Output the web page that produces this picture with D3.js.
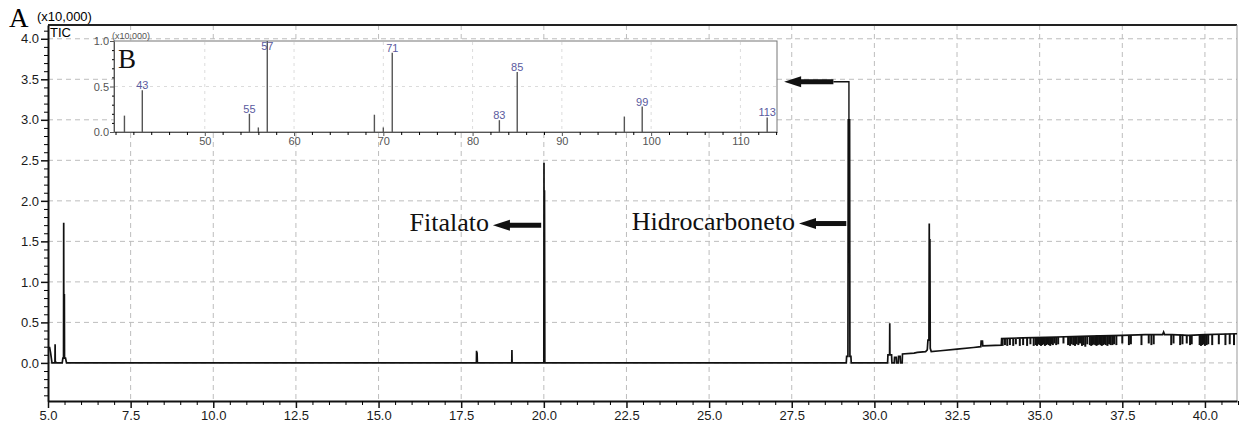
<!DOCTYPE html>
<html>
<head>
<meta charset="utf-8">
<script src="https://cdn.jsdelivr.net/npm/d3@7"></script>
<style>
  html, body { margin: 0; padding: 0; background: #fff; }
  #chart { width: 1242px; height: 430px; }
  text { font-family: "Liberation Sans", Arial, sans-serif; }
</style>
</head>
<body>
<div id="chart"></div>
<script>
// TIC chromatogram trace: [retention time (min), intensity (x10,000)]
const ticTrace = [
  [5.00, 0.19], [5.05, 0.19], [5.08, 0.12], [5.12, 0.0], [5.21, 0.0],
  [5.215, 0.23], [5.22, 0.02], [5.25, 0.0], [5.43, 0.0], [5.45, 0.06],
  [5.47, 0.06], [5.475, 1.73], [5.48, 0.06], [5.495, 0.85], [5.50, 0.06],
  [5.53, 0.06], [5.56, 0.0],
  [17.96, 0.0], [17.965, 0.15], [17.97, 0.0], [17.98, 0.13], [17.99, 0.0],
  [19.03, 0.0], [19.035, 0.16], [19.04, 0.0],
  [20.00, 0.0], [20.005, 2.47], [20.01, 0.05], [20.02, 2.13], [20.03, 0.0],
  [29.15, 0.0], [29.16, 0.08], [29.20, 0.08], [29.21, 3.0], [29.25, 3.0],
  [29.26, 0.08], [29.29, 0.08], [29.30, 0.0],
  [30.40, 0.0], [30.41, 0.10], [30.46, 0.10], [30.465, 0.49], [30.47, 0.10],
  [30.52, 0.10], [30.53, 0.0], [30.60, 0.0], [30.61, 0.07], [30.66, 0.07],
  [30.67, 0.0], [30.72, 0.0], [30.73, 0.08], [30.78, 0.08], [30.79, 0.0],
  [30.84, 0.0], [30.85, 0.11], [31.20, 0.12], [31.30, 0.13], [31.55, 0.14],
  [31.60, 0.16], [31.62, 0.28], [31.65, 0.28], [31.66, 1.72], [31.67, 0.28],
  [31.68, 1.53], [31.69, 0.18], [31.72, 0.14], [32.00, 0.15], [32.50, 0.17],
  [33.00, 0.19], [33.22, 0.20], [33.23, 0.27], [33.27, 0.27], [33.28, 0.21],
  [33.84, 0.22], [33.85, 0.30], [34.50, 0.31], [35.50, 0.32], [36.50, 0.33],
  [37.50, 0.34], [38.20, 0.35], [38.72, 0.35], [38.75, 0.38], [38.78, 0.35],
  [39.00, 0.35], [39.50, 0.34], [40.00, 0.35], [40.97, 0.36]
];

// downward noise spikes in the late baseline: [time, top, bottom]
const ticDips = [
  [33.88, 0.30, 0.21], [33.95, 0.30, 0.22], [34.02, 0.30, 0.21], [34.10, 0.30, 0.22],
  [34.20, 0.30, 0.21], [34.28, 0.30, 0.23], [34.40, 0.30, 0.21], [34.50, 0.31, 0.22],
  [34.62, 0.31, 0.21], [34.72, 0.31, 0.23], [34.82, 0.31, 0.21], [34.88, 0.31, 0.22],
  [34.92, 0.31, 0.21], [34.96, 0.31, 0.23], [35.00, 0.31, 0.22], [35.04, 0.31, 0.21],
  [35.08, 0.32, 0.22], [35.12, 0.32, 0.23], [35.16, 0.32, 0.21], [35.20, 0.32, 0.22],
  [35.24, 0.32, 0.23], [35.28, 0.32, 0.22], [35.32, 0.32, 0.21], [35.36, 0.32, 0.23],
  [35.40, 0.32, 0.22], [35.45, 0.32, 0.24], [35.50, 0.32, 0.22], [35.56, 0.32, 0.23],
  [35.72, 0.32, 0.24], [35.86, 0.33, 0.22], [35.92, 0.33, 0.21], [35.97, 0.33, 0.23],
  [36.02, 0.33, 0.22], [36.07, 0.33, 0.21], [36.12, 0.33, 0.23], [36.17, 0.33, 0.22],
  [36.22, 0.33, 0.24], [36.28, 0.33, 0.21], [36.33, 0.33, 0.22], [36.38, 0.33, 0.20],
  [36.44, 0.33, 0.23], [36.52, 0.33, 0.22], [36.56, 0.33, 0.21], [36.60, 0.33, 0.22],
  [36.64, 0.33, 0.23], [36.68, 0.33, 0.22], [36.72, 0.34, 0.21], [36.76, 0.34, 0.22],
  [36.80, 0.34, 0.23], [36.84, 0.34, 0.22], [36.88, 0.34, 0.21], [36.92, 0.34, 0.22],
  [36.96, 0.34, 0.23], [37.00, 0.34, 0.22], [37.05, 0.34, 0.21], [37.10, 0.34, 0.23],
  [37.15, 0.34, 0.22], [37.20, 0.34, 0.22], [37.25, 0.34, 0.23], [37.32, 0.34, 0.22],
  [37.50, 0.34, 0.24], [37.70, 0.34, 0.22], [37.76, 0.34, 0.23], [38.08, 0.35, 0.22],
  [38.30, 0.35, 0.24], [38.38, 0.35, 0.22], [38.45, 0.35, 0.23], [38.98, 0.35, 0.22],
  [39.05, 0.35, 0.24], [39.25, 0.35, 0.22], [39.32, 0.35, 0.23], [39.45, 0.34, 0.24],
  [39.55, 0.34, 0.22], [39.60, 0.34, 0.23], [39.84, 0.35, 0.22], [39.88, 0.35, 0.21],
  [39.92, 0.35, 0.22], [39.96, 0.35, 0.23], [40.00, 0.35, 0.21], [40.05, 0.35, 0.22],
  [40.10, 0.35, 0.23], [40.22, 0.35, 0.22], [40.42, 0.35, 0.23], [40.62, 0.36, 0.22],
  [40.75, 0.36, 0.23], [40.88, 0.36, 0.22]
];

// inset B: mass spectrum of the hydrocarbon peak
const msMz = [41, 43, 55, 56, 57, 69, 70, 71, 83, 85, 97, 99, 113];
const msIntensity = [0.18, 0.46, 0.20, 0.05, 1.00, 0.19, 0.05, 0.87, 0.13, 0.66, 0.17, 0.28, 0.16];
const msLabelled = [43, 55, 57, 71, 83, 85, 99, 113];

const ticXTicks = d3.range(5, 40.01, 2.5);
const ticYTicks = d3.range(0, 4.01, 0.5);
const msXTicks = [50, 60, 70, 80, 90, 100, 110];
const msYTicks = [0, 0.5, 1.0];

// annotations: label, arrow tail time, arrow tip time, arrow level
const ticNotes = [
  { label: "Fitalato", tail: 19.92, tip: 18.46, y: 1.70 },
  { label: "Hidrocarboneto", tail: 29.15, tip: 27.72, y: 1.72 }
];
const msPointer = { peak: 29.23, from: 3.0, level: 3.47, tail: 28.76, tip: 27.27 };

function drawChromatogram(divId) {
  const svg = d3.select(`#${divId}`)
    .append("svg")
    .attr("width", 1242)
    .attr("height", 430);

  const xScale = d3.scaleLinear().domain([5, 40.97]).range([48, 1237]);
  const yScale = d3.scaleLinear().domain([-0.47, 4.17]).range([401, 25]);

  const gridColor = "#bdbdbd";

  // grid
  svg.append("g")
    .selectAll("line")
    .data(ticXTicks.slice(1))
    .join("line")
    .attr("x1", (d) => xScale(d)).attr("x2", (d) => xScale(d))
    .attr("y1", yScale.range()[1]).attr("y2", yScale.range()[0])
    .attr("stroke", gridColor)
    .attr("stroke-dasharray", "5,4");

  svg.append("g")
    .selectAll("line")
    .data(ticYTicks)
    .join("line")
    .attr("x1", xScale.range()[0]).attr("x2", xScale.range()[1])
    .attr("y1", (d) => yScale(d)).attr("y2", (d) => yScale(d))
    .attr("stroke", gridColor)
    .attr("stroke-dasharray", "5,4");

  // frame
  svg.append("line")
    .attr("x1", 48).attr("x2", 1237).attr("y1", 25).attr("y2", 25)
    .attr("stroke", "#222").attr("stroke-width", 2);
  svg.append("line")
    .attr("x1", 1237).attr("x2", 1237).attr("y1", 25).attr("y2", 401)
    .attr("stroke", "#999");

  // trace
  const line = d3.line()
    .x((d) => xScale(d[0]))
    .y((d) => yScale(d[1]));

  svg.append("path")
    .datum(ticTrace)
    .attr("d", line)
    .attr("fill", "none")
    .attr("stroke", "#111")
    .attr("stroke-width", 1.7)
    .attr("stroke-linejoin", "miter");

  svg.append("g")
    .selectAll("line")
    .data(ticDips)
    .join("line")
    .attr("x1", (d) => xScale(d[0])).attr("x2", (d) => xScale(d[0]))
    .attr("y1", (d) => yScale(d[1])).attr("y2", (d) => yScale(d[2]))
    .attr("stroke", "#111")
    .attr("stroke-width", 2);

  // axes
  const minorX = d3.range(5, 41.01, 0.5).filter((v) => !ticXTicks.includes(v));
  const minorY = d3.range(-0.4, 4.15, 0.1).map((v) => +v.toFixed(1))
    .filter((v) => Math.abs((v * 2) - Math.round(v * 2)) > 1e-6);

  const xAxis = svg.append("g")
    .attr("transform", `translate(0,401)`)
    .call(d3.axisBottom(xScale).tickValues(ticXTicks).tickFormat(d3.format(".1f"))
      .tickSize(7).tickPadding(3).tickSizeOuter(0));
  svg.append("g")
    .attr("transform", `translate(0,401)`)
    .call(d3.axisBottom(xScale).tickValues(minorX).tickFormat("").tickSize(4).tickSizeOuter(0))
    .call((g) => g.select(".domain").remove());

  const yAxis = svg.append("g")
    .attr("transform", `translate(48,0)`)
    .call(d3.axisLeft(yScale).tickValues(ticYTicks).tickFormat(d3.format(".1f"))
      .tickSize(7).tickPadding(2).tickSizeOuter(0));
  svg.append("g")
    .attr("transform", `translate(48,0)`)
    .call(d3.axisLeft(yScale).tickValues(minorY).tickFormat("").tickSize(4).tickSizeOuter(0))
    .call((g) => g.select(".domain").remove());

  [xAxis, yAxis].forEach((g) => {
    g.selectAll("text").style("font-size", "13px").attr("fill", "#1a1a1a");
    g.selectAll("line").attr("stroke", "#111").attr("stroke-width", 1.5);
    g.select(".domain").attr("stroke", "#111").attr("stroke-width", 2);
  });

  svg.append("text")
    .attr("x", 9).attr("y", 27)
    .text("A")
    .style("font-family", "'Liberation Serif', 'Times New Roman', serif")
    .style("font-size", "27px");
  svg.append("text")
    .attr("x", 37).attr("y", 21)
    .text("(x10,000)")
    .style("font-size", "13px");
  svg.append("text")
    .attr("x", 50).attr("y", 37)
    .text("TIC")
    .style("font-size", "13px");

  // annotations
  function arrow(tailX, tipX, y) {
    const headLen = 17;
    const g = svg.append("g");
    g.append("line")
      .attr("x1", tailX).attr("x2", tipX + headLen - 1)
      .attr("y1", y).attr("y2", y)
      .attr("stroke", "#111").attr("stroke-width", 5);
    g.append("path")
      .attr("d", `M${tipX},${y} L${tipX + headLen},${y - 5.5} L${tipX + headLen},${y + 5.5} Z`)
      .attr("fill", "#111");
  }

  ticNotes.forEach((n) => {
    const y = yScale(n.y);
    arrow(xScale(n.tail), xScale(n.tip), y);
    svg.append("text")
      .attr("x", xScale(n.tip) - 4)
      .attr("y", y + 6)
      .attr("text-anchor", "end")
      .text(n.label)
      .style("font-family", "'Liberation Serif', 'Times New Roman', serif")
      .style("font-size", "26px")
      .attr("fill", "#111");
  });

  // connector from hydrocarbon peak to the inset
  const pk = xScale(msPointer.peak);
  svg.append("path")
    .attr("d", `M${pk},${yScale(msPointer.from)} V${yScale(msPointer.level)} H${xScale(msPointer.tail)}`)
    .attr("fill", "none")
    .attr("stroke", "#111")
    .attr("stroke-width", 1.4);
  arrow(xScale(msPointer.tail), xScale(msPointer.tip), yScale(msPointer.level));

  // inset B
  const inset = svg.append("g");
  const xIn = d3.scaleLinear().domain([39.83, 114.1]).range([114, 777]);
  const yIn = d3.scaleLinear().domain([0, 1.0]).range([132, 41]);

  inset.append("rect")
    .attr("x", 114).attr("y", 41).attr("width", 663).attr("height", 91)
    .attr("fill", "#fff")
    .attr("stroke", "#777");

  inset.append("g")
    .selectAll("line")
    .data(msXTicks)
    .join("line")
    .attr("x1", (d) => xIn(d)).attr("x2", (d) => xIn(d))
    .attr("y1", 42).attr("y2", 131)
    .attr("stroke", "#dcdcdc")
    .attr("stroke-dasharray", "3,4");
  inset.append("line")
    .attr("x1", 115).attr("x2", 776)
    .attr("y1", yIn(0.5)).attr("y2", yIn(0.5))
    .attr("stroke", "#dcdcdc")
    .attr("stroke-dasharray", "3,4");

  const msData = msMz.map((m, i) => ({ mz: m, v: msIntensity[i] }));

  inset.append("g")
    .selectAll("line")
    .data(msData)
    .join("line")
    .attr("x1", (d) => xIn(d.mz)).attr("x2", (d) => xIn(d.mz))
    .attr("y1", yIn(0)).attr("y2", (d) => yIn(d.v))
    .attr("stroke", "#555")
    .attr("stroke-width", 1.4);

  inset.append("g")
    .selectAll("text")
    .data(msData.filter((d) => msLabelled.includes(d.mz)))
    .join("text")
    .attr("x", (d) => xIn(d.mz))
    .attr("y", (d) => Math.max(yIn(d.v) - 1, yIn(1.0) + 9))
    .attr("text-anchor", "middle")
    .text((d) => d.mz)
    .style("font-size", "11px")
    .attr("fill", "#5a5a9e");

  const msMinorX = d3.range(40, 114.1, 2).filter((v) => !msXTicks.includes(v));
  const msMinorY = d3.range(0.1, 1.0, 0.1).map((v) => +v.toFixed(1)).filter((v) => v !== 0.5);

  const xInAxis = inset.append("g")
    .attr("transform", `translate(0,132)`)
    .call(d3.axisBottom(xIn).tickValues(msXTicks).tickSize(4).tickPadding(1).tickSizeOuter(0));
  inset.append("g")
    .attr("transform", `translate(0,132)`)
    .call(d3.axisBottom(xIn).tickValues(msMinorX).tickFormat("").tickSize(3).tickSizeOuter(0))
    .call((g) => g.select(".domain").remove());

  const yInAxis = inset.append("g")
    .attr("transform", `translate(114,0)`)
    .call(d3.axisLeft(yIn).tickValues(msYTicks).tickFormat(d3.format(".1f"))
      .tickSize(4).tickPadding(1).tickSizeOuter(0));
  inset.append("g")
    .attr("transform", `translate(114,0)`)
    .call(d3.axisLeft(yIn).tickValues(msMinorY).tickFormat("").tickSize(2).tickSizeOuter(0))
    .call((g) => g.select(".domain").remove());

  [xInAxis, yInAxis].forEach((g) => {
    g.selectAll("text").style("font-size", "11px").attr("fill", "#555");
    g.selectAll("line").attr("stroke", "#555");
    g.select(".domain").attr("stroke", "#555");
  });
  inset.selectAll("g line").filter(function () { return !this.getAttribute("stroke"); })
    .attr("stroke", "#555");

  inset.append("text")
    .attr("x", 112).attr("y", 39)
    .text("(x10,000)")
    .style("font-size", "9px")
    .attr("fill", "#555");
  inset.append("text")
    .attr("x", 118).attr("y", 68)
    .text("B")
    .style("font-family", "'Liberation Serif', 'Times New Roman', serif")
    .style("font-size", "27px")
    .attr("fill", "#111");
}

drawChromatogram("chart");
</script>
</body>
</html>
